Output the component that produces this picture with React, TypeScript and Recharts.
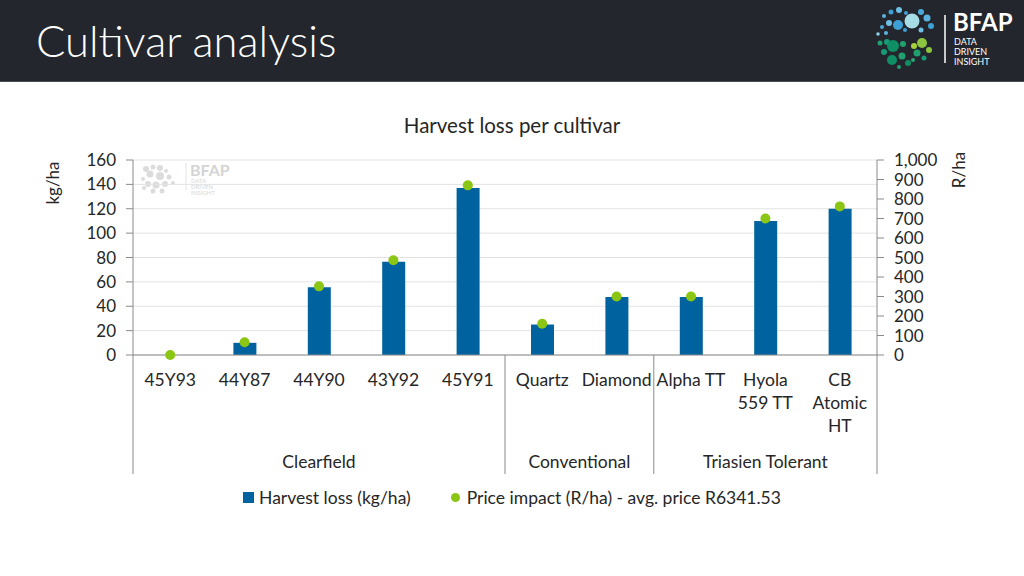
import React from 'react';
import { ComposedChart, Bar, Line, XAxis, YAxis, CartesianGrid, Legend } from 'recharts';

const cultivars = ['45Y93', '44Y87', '44Y90', '43Y92', '45Y91', 'Quartz', 'Diamond', 'Alpha TT', 'Hyola 559 TT', 'CB Atomic HT'];
const tickLines = [['45Y93'], ['44Y87'], ['44Y90'], ['43Y92'], ['45Y91'], ['Quartz'], ['Diamond'], ['Alpha TT'], ['Hyola', '559 TT'], ['CB', 'Atomic', 'HT']];
const groups = [
  'Clearfield', 'Clearfield', 'Clearfield', 'Clearfield', 'Clearfield',
  'Conventional', 'Conventional',
  'Triasien Tolerant', 'Triasien Tolerant', 'Triasien Tolerant',
];
const harvestLoss = [0, 10, 55.5, 76.5, 137, 25, 47.5, 47.5, 110, 120];
const priceImpact = [0, 65, 352, 486, 870, 160, 300, 300, 700, 762];
const leftTicks = [0, 20, 40, 60, 80, 100, 120, 140, 160];
const rightTicks = [0, 100, 200, 300, 400, 500, 600, 700, 800, 900, 1000];

const BLUE = '#00639f';
const GREEN = '#8cc614';
const AXIS = '#8a8a8a';
const TEXT = '#262626';
const FONT = 'Lato, "Open Sans", sans-serif';

const data = cultivars.map((name, i) => ({
  name,
  loss: harvestLoss[i],
  price: priceImpact[i],
}));

// logo dots (decoration only)
const logoDots: [number, number, number, string][] = [
  [884, 16, 2, '#5ab3df'], [891, 12, 2.5, '#3d9fd4'], [899, 10, 3, '#6cc0e4'], [906, 13, 2, '#3d9fd4'],
  [912, 21, 7.5, '#a6dce6'], [921, 12, 3, '#4aa8d8'], [927, 18, 3.5, '#5ab3df'], [931, 26, 3, '#3d9fd4'],
  [898, 25, 5, '#3d9fd4'], [889, 23, 3, '#6cc0e4'], [882, 27, 2, '#4aa8d8'], [878, 34, 1.8, '#8ad0e6'],
  [905, 30, 2, '#3d9fd4'], [921, 30, 2.5, '#6cc0e4'], [886, 33, 2, '#5ab3df'],
  [880, 43, 2.5, '#1fa06e'], [887, 42, 3, '#179a78'], [893, 46, 6, '#0f8e64'], [903, 44, 3, '#1fa06e'],
  [922, 43, 5, '#8cc63f'], [914, 46, 3, '#a5d23a'], [929, 50, 3, '#8cc63f'], [917, 53, 3.5, '#1fa06e'],
  [884, 52, 3, '#179a78'], [892, 60, 5, '#0f8e64'], [902, 56, 3.5, '#1fa06e'], [908, 63, 3, '#0f8e64'],
  [924, 58, 2.5, '#179a78'], [899, 67, 2, '#1fa06e'], [913, 60, 2, '#2aa876'],
];

const wmDots: [number, number, number][] = [
  [10, 8, 3], [17, 6, 2.5], [24, 7, 3], [30, 10, 2], [14, 13, 3.5], [24, 15, 4], [33, 16, 2.5],
  [7, 18, 2], [12, 23, 3], [20, 24, 3.5], [29, 23, 3], [37, 22, 2], [17, 30, 2.5], [26, 30, 2.5], [8, 27, 2],
];

function CultivarTick(props: any) {
  const { x, y, payload, index } = props;
  const half = payload && payload.offset ? payload.offset : 37.2;
  const group = groups[index];
  const first = index === 0 || groups[index - 1] !== group;
  const last = index === groups.length - 1;
  let span = 0;
  if (first) {
    while (groups[index + span] === group) span++;
  }
  return (
    <g>
      <text x={x} y={y + 31} textAnchor="middle" fill={TEXT} fontSize={17.5} fontFamily={FONT}>
        {tickLines[index].map((t, k) => (
          <tspan key={k} x={x} dy={k === 0 ? 0 : 23}>{t}</tspan>
        ))}
      </text>
      {first && <line x1={x - half} x2={x - half} y1={y} y2={y + 119} stroke={AXIS} />}
      {first && (
        <text x={x - half + span * half} y={y + 113} textAnchor="middle" fill={TEXT} fontSize={17.5} fontFamily={FONT}>
          {group}
        </text>
      )}
      {last && <line x1={x + half} x2={x + half} y1={y} y2={y + 119} stroke={AXIS} />}
    </g>
  );
}

function LegendContent() {
  return (
    <div style={{ display: 'flex', justifyContent: 'center', alignItems: 'center', fontFamily: FONT, fontSize: 17.5, color: TEXT }}>
      <span style={{ display: 'inline-block', width: 11, height: 11, background: BLUE, marginRight: 5 }} />
      <span>Harvest loss (kg/ha)</span>
      <span style={{ display: 'inline-block', width: 9, height: 9, borderRadius: 5, background: GREEN, marginLeft: 40, marginRight: 7 }} />
      <span>Price impact (R/ha) - avg. price R6341.53</span>
    </div>
  );
}

export default function App() {
  return (
    <div style={{ position: 'absolute', left: 0, top: 0, width: 1024, height: 576, background: '#fff', overflow: 'hidden', fontFamily: FONT }}>
      <div style={{ position: 'absolute', left: 0, top: 0, width: 1024, height: 81, background: '#23262d', borderBottom: '1px solid #4a4d54' }}>
        <div style={{ position: 'absolute', left: 36, top: 13, color: '#fff', fontSize: 43.5, fontWeight: 300, lineHeight: '54px' }}>
          Cultivar analysis
        </div>
        <svg width={1024} height={81} style={{ position: 'absolute', left: 0, top: 0 }}>
          {logoDots.map(([cx, cy, r, c], i) => (
            <circle key={i} cx={cx} cy={cy} r={r} fill={c} />
          ))}
          <line x1={945} x2={945} y1={15} y2={63} stroke="#ffffff" strokeWidth={1.5} />
          <text x={953} y={31} fill="#fff" fontSize={24} fontWeight={700} fontFamily={FONT}>BFAP</text>
          <text x={954} y={45} fill="#fff" fontSize={9} fontFamily={FONT}>DATA</text>
          <text x={954} y={55} fill="#fff" fontSize={9} fontFamily={FONT}>DRIVEN</text>
          <text x={954} y={65} fill="#fff" fontSize={9} fontFamily={FONT}>INSIGHT</text>
        </svg>
      </div>

      <div style={{ position: 'absolute', left: 0, top: 113, width: 1024, textAlign: 'center', fontSize: 20.5, color: TEXT }}>
        Harvest loss per cultivar
      </div>

      <svg width={120} height={40} style={{ position: 'absolute', left: 132, top: 160 }}>
        {wmDots.map(([cx, cy, r], i) => (
          <circle key={i} cx={cx + 4} cy={cy + 1} r={r} fill="#dcdcdc" />
        ))}
        <line x1={54} x2={54} y1={3} y2={30} stroke="#e4e4e4" />
        <text x={58} y={16} fill="#d4d4d4" fontSize={16} fontWeight={700} fontFamily={FONT}>BFAP</text>
        <text x={59} y={23} fill="#d8d8d8" fontSize={6} fontFamily={FONT}>DATA</text>
        <text x={59} y={29} fill="#d8d8d8" fontSize={6} fontFamily={FONT}>DRIVEN</text>
        <text x={59} y={35} fill="#d8d8d8" fontSize={6} fontFamily={FONT}>INSIGHT</text>
      </svg>

      <div style={{ position: 'absolute', left: 0, top: 0 }}>
        <ComposedChart
          width={1024}
          height={576}
          data={data}
          margin={{ top: 160, right: 87, left: 73, bottom: 101 }}
          barCategoryGap={0}
        >
          <CartesianGrid yAxisId="left" vertical={false} stroke="#e3e3e3" />
          <XAxis
            dataKey="name"
            interval={0}
            height={120}
            tickSize={0}
            tickMargin={0}
            axisLine={{ stroke: AXIS }}
            tickLine={false}
            tick={<CultivarTick />}
          />
          <YAxis
            yAxisId="left"
            width={60}
            domain={[0, 160]}
            ticks={leftTicks}
            interval={0}
            tickSize={7}
            tickMargin={10}
            axisLine={{ stroke: AXIS }}
            tickLine={{ stroke: AXIS }}
            tick={{ fill: TEXT, fontSize: 17, fontFamily: FONT }}
            label={{
              content: (p: any) => (
                <text
                  x={p.viewBox.x - 14}
                  y={p.viewBox.y + 23}
                  transform={`rotate(-90 ${p.viewBox.x - 14} ${p.viewBox.y + 23})`}
                  textAnchor="middle"
                  fill={TEXT}
                  fontSize={17}
                  fontFamily={FONT}
                >
                  kg/ha
                </text>
              ),
            }}
          />
          <YAxis
            yAxisId="right"
            orientation="right"
            width={60}
            domain={[0, 1000]}
            ticks={rightTicks}
            interval={0}
            tickSize={7}
            tickMargin={10}
            axisLine={{ stroke: AXIS }}
            tickLine={{ stroke: AXIS }}
            tick={{ fill: TEXT, fontSize: 17, fontFamily: FONT }}
            tickFormatter={(v: number) => v.toLocaleString('en-US')}
            label={{
              content: (p: any) => (
                <text
                  x={p.viewBox.x + 88}
                  y={p.viewBox.y + 10}
                  transform={`rotate(-90 ${p.viewBox.x + 88} ${p.viewBox.y + 10})`}
                  textAnchor="middle"
                  fill={TEXT}
                  fontSize={17}
                  fontFamily={FONT}
                >
                  R/ha
                </text>
              ),
            }}
          />
          <Legend
            verticalAlign="middle"
            layout="horizontal"
            wrapperStyle={{ top: 487, left: 0, width: 1024 }}
            content={() => <LegendContent />}
          />
          <Bar yAxisId="left" dataKey="loss" name="Harvest loss (kg/ha)" fill={BLUE} barSize={23} isAnimationActive={false} />
          <Line
            yAxisId="right"
            dataKey="price"
            name="Price impact (R/ha) - avg. price R6341.53"
            stroke="none"
            dot={{ r: 5, fill: GREEN, stroke: 'none' }}
            activeDot={false}
            isAnimationActive={false}
          />
        </ComposedChart>
      </div>
    </div>
  );
}
